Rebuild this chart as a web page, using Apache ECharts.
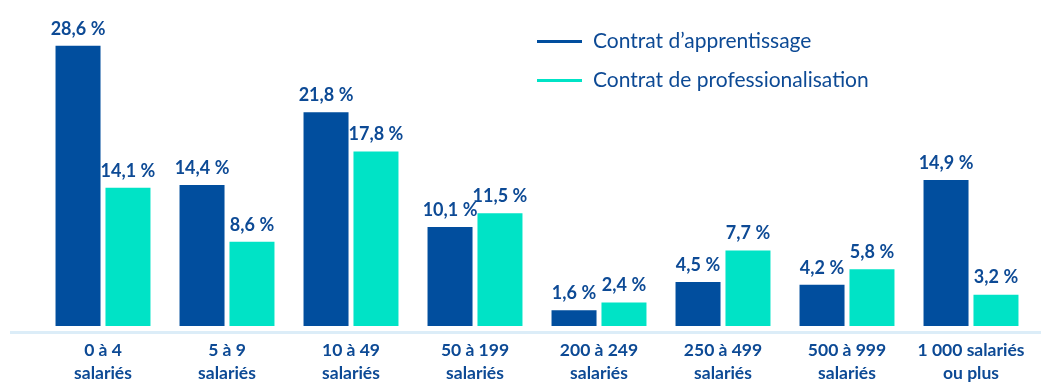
<!DOCTYPE html>
<html>
<head>
<meta charset="utf-8">
<script src="https://cdn.jsdelivr.net/npm/echarts@6/dist/echarts.min.js"></script>
<style>
  html, body { margin: 0; padding: 0; background: #ffffff; }
  #chart { width: 1041px; height: 385px; }
</style>
</head>
<body>
<div id="chart"></div>
<script>
// Company size bands
const categories = [
  '0 à 4\nsalariés', '5 à 9\nsalariés', '10 à 49\nsalariés', '50 à 199\nsalariés',
  '200 à 249\nsalariés', '250 à 499\nsalariés', '500 à 999\nsalariés', '1 000 salariés\nou plus'
];
// Share of contracts by company size (%)
const apprentissage = [28.6, 14.4, 21.8, 10.1, 1.6, 4.5, 4.2, 14.9];
const professionnalisation = [14.1, 8.6, 17.8, 11.5, 2.4, 7.7, 5.8, 3.2];
const seriesNames = ["Contrat d\u2019apprentissage", 'Contrat de professionalisation'];

const DARK = '#014e9e';
const TEAL = '#00e3c6';
const TEXT = '#0d4a95';
const FONT = 'Lato, "Open Sans", sans-serif';

const fmt = v => String(v.value).replace('.', ',') + '\u202f%';

const chart = echarts.init(document.getElementById('chart'));
chart.setOption({
  animation: false,
  textStyle: { fontFamily: FONT },
  grid: { left: 41, right: 8, top: 32, bottom: 53 },
  legend: {
    orient: 'vertical',
    left: 537,
    top: 31,
    padding: 0,
    itemWidth: 45,
    itemHeight: 3,
    itemGap: 18,
    icon: 'rect',
    textStyle: { color: TEXT, fontSize: 21, fontFamily: FONT, padding: [0, 0, 0, 6] },
    data: seriesNames
  },
  xAxis: {
    type: 'category',
    data: categories,
    axisLine: { show: false },
    axisTick: { show: false },
    axisLabel: {
      color: TEXT, fontSize: 17.5, fontWeight: 'bold', lineHeight: 23, margin: 13,
      fontFamily: FONT, interval: 0
    }
  },
  yAxis: {
    type: 'value', min: 0, max: 30,
    show: false,
    splitLine: { show: false }
  },
  // light baseline spanning the full width, drawn over the bar feet
  graphic: [{
    type: 'line',
    shape: { x1: 10, y1: 332.5, x2: 1041, y2: 332.5 },
    style: { stroke: '#dcedf8', lineWidth: 3 },
    z: 10
  }],
  series: [
    {
      name: seriesNames[0], type: 'bar', data: apprentissage,
      barWidth: 45, barGap: '11%',
      itemStyle: { color: DARK },
      label: { show: true, position: 'top', distance: 8, formatter: fmt,
        color: TEXT, fontSize: 18, fontWeight: 'bold', fontFamily: FONT }
    },
    {
      name: seriesNames[1], type: 'bar', data: professionnalisation,
      barWidth: 45,
      itemStyle: { color: TEAL },
      label: { show: true, position: 'top', distance: 8, formatter: fmt,
        color: TEXT, fontSize: 18, fontWeight: 'bold', fontFamily: FONT }
    }
  ]
});
</script>
</body>
</html>
